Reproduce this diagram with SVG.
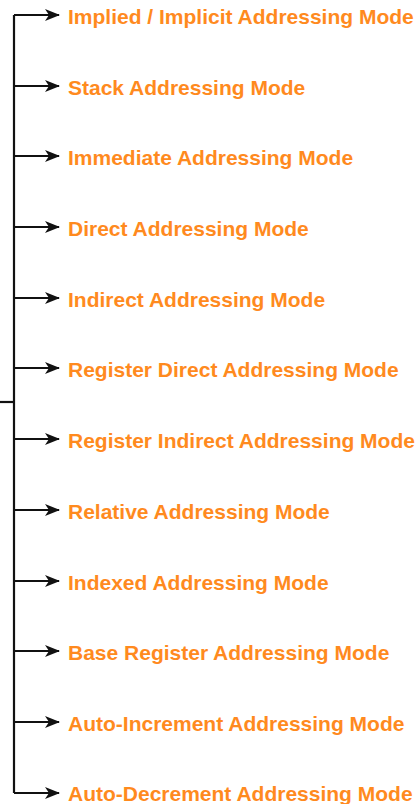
<svg xmlns="http://www.w3.org/2000/svg" width="420" height="804" viewBox="0 0 420 804">
  <style>
    .wire { fill: none; stroke: #111; stroke-width: 2.2; }
    .label { font-family: "Liberation Sans", Arial, sans-serif; font-weight: bold; font-size: 21px; fill: #FF8A1E; dominant-baseline: central; }
  </style>
  <defs>
    <marker id="head" viewBox="0 0 15 12" refX="14" refY="6" markerWidth="15" markerHeight="12" markerUnits="userSpaceOnUse" orient="auto">
      <path d="M0,0 L15,6 L0,12 L4,6 Z" fill="#111"/>
    </marker>
  </defs>
  <rect width="420" height="804" fill="#fff"/>

  <!-- trunk and branches -->
  <g id="connectors">
    <path class="wire" d="M0,402 H14"/>
    <path class="wire" d="M14,15 V793"/>
    <path class="wire" d="M14,15 H59" marker-end="url(#head)"/>
    <path class="wire" d="M14,86 H59" marker-end="url(#head)"/>
    <path class="wire" d="M14,156 H59" marker-end="url(#head)"/>
    <path class="wire" d="M14,227 H59" marker-end="url(#head)"/>
    <path class="wire" d="M14,298 H59" marker-end="url(#head)"/>
    <path class="wire" d="M14,368 H59" marker-end="url(#head)"/>
    <path class="wire" d="M14,439 H59" marker-end="url(#head)"/>
    <path class="wire" d="M14,510 H59" marker-end="url(#head)"/>
    <path class="wire" d="M14,581 H59" marker-end="url(#head)"/>
    <path class="wire" d="M14,651 H59" marker-end="url(#head)"/>
    <path class="wire" d="M14,722 H59" marker-end="url(#head)"/>
    <path class="wire" d="M14,793 H59" marker-end="url(#head)"/>
  </g>

  <g id="implied"><text class="label" x="68" y="16">Implied / Implicit Addressing Mode</text></g>
  <g id="stack"><text class="label" x="68" y="87">Stack Addressing Mode</text></g>
  <g id="immediate"><text class="label" x="68" y="157">Immediate Addressing Mode</text></g>
  <g id="direct"><text class="label" x="68" y="228">Direct Addressing Mode</text></g>
  <g id="indirect"><text class="label" x="68" y="299">Indirect Addressing Mode</text></g>
  <g id="register-direct"><text class="label" x="68" y="369">Register Direct Addressing Mode</text></g>
  <g id="register-indirect"><text class="label" x="68" y="440">Register Indirect Addressing Mode</text></g>
  <g id="relative"><text class="label" x="68" y="511">Relative Addressing Mode</text></g>
  <g id="indexed"><text class="label" x="68" y="582">Indexed Addressing Mode</text></g>
  <g id="base-register"><text class="label" x="68" y="652">Base Register Addressing Mode</text></g>
  <g id="auto-increment"><text class="label" x="68" y="723">Auto-Increment Addressing Mode</text></g>
  <g id="auto-decrement"><text class="label" x="68" y="793">Auto-Decrement Addressing Mode</text></g>
</svg>
